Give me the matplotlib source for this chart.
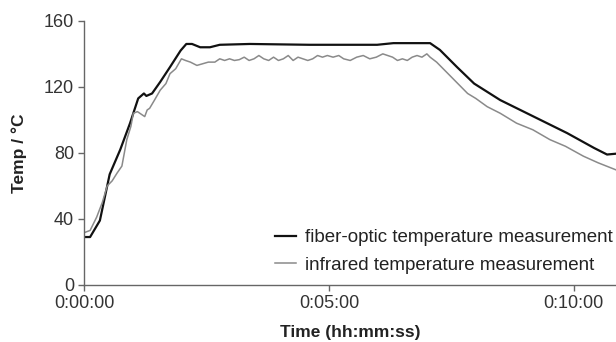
import matplotlib
matplotlib.use("Agg")
import matplotlib.pyplot as plt
from matplotlib.ticker import FuncFormatter, MultipleLocator

plt.rcParams["font.family"] = ["Liberation Sans", "DejaVu Sans"]

# fiber-optic probe (black), time in seconds
fiber_t = [0, 7, 19, 31, 44, 56, 66, 73, 76, 83, 93, 105, 118, 125, 132,
           142, 154, 166, 203, 276, 359, 379, 424, 436, 457, 478, 510, 551,
           592, 625, 641, 652]
fiber_T = [29, 29, 39, 67, 82, 98, 113, 116, 114.5, 116, 123, 132, 142, 146,
           146, 144, 144, 145.5, 146, 145.5, 145.5, 146.5, 146.5, 142.4, 132,
           122, 112, 102, 92, 83, 79, 79.5]

# infrared camera (grey)
ir_t = [0, 7, 15, 22, 28, 34, 40, 46, 52, 57, 60, 65, 68, 71, 74, 77, 80, 86,
        93, 100, 105, 112, 119, 124, 130, 138, 145, 152, 160, 166, 172, 178,
        184, 190, 196, 202, 208, 214, 220, 226, 232, 238, 244, 250, 256, 262,
        268, 274, 280, 286, 292, 298, 305, 312, 318, 326, 334, 342, 350, 358,
        366, 372, 378, 384, 390, 396, 402, 408, 414, 420, 424, 432, 440, 450,
        460, 470, 480, 494, 510, 530, 550, 571, 590, 612, 630, 652]
ir_T = [31.7, 33, 41, 50, 60, 63, 67.7, 72, 88, 96, 104, 105, 104, 103, 102,
        106, 107, 112, 118, 122, 128, 131, 137, 136, 135, 133, 134, 135, 135,
        137, 136, 137, 136, 136.5, 138, 136, 137, 139, 137, 136, 138, 136, 137,
        139, 136, 138, 137, 136, 137, 139, 138, 139, 138, 139, 137, 136, 138,
        139, 137, 138, 140, 139, 138, 136, 137, 136, 138, 139, 138, 140, 138,
        135, 131, 126, 121, 116, 113, 108, 104, 98, 94, 88, 84, 78, 74, 69.7]

y_ticks = [0, 40, 80, 120, 160]


def hms(x, pos):
    s = int(round(x))
    return f"{s // 3600}:{(s % 3600) // 60:02d}:{s % 60:02d}"


fig = plt.figure(figsize=(6.16, 3.42), dpi=100)
ax = fig.add_axes([0.137, 0.167, 0.863, 0.772])

ax.plot(fiber_t, fiber_T, color="#111111", lw=1.6,
        label="fiber-optic temperature measurement")
ax.plot(ir_t, ir_T, color="#8a8a8a", lw=1.1,
        label="infrared temperature measurement")

ax.set_xlim(0, 652)
ax.set_ylim(0, 160)
ax.set_yticks(y_ticks)
ax.xaxis.set_major_locator(MultipleLocator(300))
ax.xaxis.set_major_formatter(FuncFormatter(hms))

for side in ("top", "right"):
    ax.spines[side].set_visible(False)
for side in ("left", "bottom"):
    ax.spines[side].set_color("#666666")
    ax.spines[side].set_linewidth(1.0)
ax.tick_params(colors="#666666", labelcolor="#333333", labelsize=13,
               length=4, width=1.0)

ax.set_ylabel("Temp / °C", fontsize=12.5, fontweight="bold", color="#222222",
              labelpad=12)
ax.set_xlabel("Time (hh:mm:ss)", fontsize=12.5, fontweight="bold",
              color="#222222", labelpad=9)

ax.legend(loc="lower right", frameon=False, fontsize=13.5, handlelength=1.1,
          handletextpad=0.5, labelspacing=0.55, borderaxespad=0.2,
          labelcolor="#222222", bbox_to_anchor=(1.015, 0.0))

fig.savefig("out.png", dpi=100)
